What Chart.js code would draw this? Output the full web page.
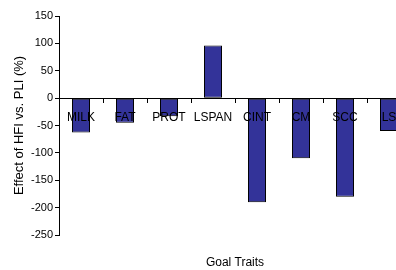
<!DOCTYPE html>
<html>
<head>
<meta charset="utf-8">
<script src="https://cdn.jsdelivr.net/npm/chart.js@4"></script>
<style>
  html, body { margin: 0; padding: 0; background: #fff; overflow: hidden; }
  #wrap { width: 420px; height: 270px; }
</style>
</head>
<body>
<div id="wrap"><canvas id="chart"></canvas></div>
<script>
const traits = ['MILK', 'FAT', 'PROT', 'LSPAN', 'CINT', 'CM', 'SCC', 'LS']
const effect = [-63, -45, -33, 96, -190, -110, -180, -60]

const ctx = document.getElementById('chart').getContext('2d')

const effectChart = new Chart(ctx, {
  type: 'bar',
  data: {
    labels: traits,
    datasets: [{
      data: effect,
      backgroundColor: '#333399',
      borderColor: '#000000',
      borderWidth: 1,
      borderSkipped: false,
      categoryPercentage: 0.82,
      barPercentage: 0.5
    }]
  },
  options: {
    responsive: true,
    maintainAspectRatio: false,
    animation: false,
    layout: {
      padding: { top: 16, left: 0, right: 9, bottom: 0 }
    },
    plugins: {
      legend: { display: false },
      tooltip: { enabled: false }
    },
    scales: {
      x: {
        position: { y: 0 },
        grid: {
          offset: true,
          drawOnChartArea: false,
          tickLength: 4,
          color: '#000',
          z: 1
        },
        border: { color: '#000', z: 1 },
        ticks: {
          color: '#000',
          padding: 8,
          maxRotation: 0,
          autoSkip: false,
          z: 1,
          font: { family: 'Liberation Sans', size: 12 }
        }
      },
      x2: {
        type: 'category',
        labels: traits,
        position: 'bottom',
        grid: { display: false },
        border: { display: false },
        ticks: { display: false },
        title: {
          display: true,
          text: 'Goal Traits',
          color: '#000',
          padding: { top: 16, bottom: 0 },
          font: { family: 'Liberation Sans', size: 12 }
        },
        afterFit: (scale) => { scale.height = 35 }
      },
      y: {
        min: -250,
        max: 150,
        ticks: {
          stepSize: 50,
          color: '#000',
          padding: 2,
          font: { family: 'Liberation Sans', size: 11 }
        },
        grid: {
          drawOnChartArea: false,
          tickLength: 4,
          color: '#000'
        },
        border: { color: '#000' },
        title: {
          display: true,
          text: 'Effect of HFI vs. PLI (%)',
          color: '#000',
          padding: { top: 12, bottom: 4 },
          font: { family: 'Liberation Sans', size: 13 }
        },
        afterFit: (scale) => { scale.width = 59 }
      }
    }
  }
})
</script>
</body>
</html>
